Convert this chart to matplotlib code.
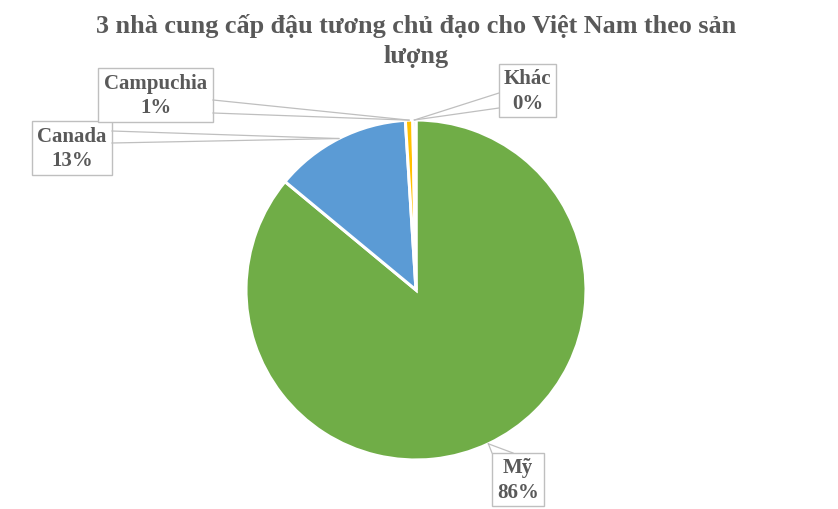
import numpy as np
import matplotlib
matplotlib.use("Agg")
import matplotlib.pyplot as plt
from matplotlib.patches import Rectangle

# data
labels = ["Mỹ", "Canada", "Campuchia", "Khác"]
values = [86.0, 13.0, 0.7, 0.3]
colors = ["#70AD47", "#5B9BD5", "#FFC000", "#A5A5A5"]
title = "3 nhà cung cấp đậu tương chủ đạo cho Việt Nam theo sản\nlượng"

W, H = 838, 509
fig = plt.figure(figsize=(W / 100, H / 100), dpi=100)
plt.rcParams['font.family'] = ['Liberation Serif', 'DejaVu Serif']

cx, cy, R = 416, 290, 170
ax = fig.add_axes([(cx - R) / W, (H - cy - R) / H, 2 * R / W, 2 * R / H])
wedges, _ = ax.pie(values, colors=colors, startangle=90, counterclock=False,
                   radius=1.0, wedgeprops=dict(edgecolor="white", linewidth=2.2))
ax.set_xlim(-1, 1)
ax.set_ylim(-1, 1)
ax.set_aspect("equal")
ax.axis("off")

def px(x, y):
    return x / W, 1 - y / H

text_col = "#595959"
line_col = "#BFBFBF"

fig.text(*px(416, 41), title, ha="center", va="center", fontsize=18.8,
         fontweight="bold", color=text_col, linespacing=1.4)

# label boxes: (left, top, right, bottom) in pixels, and two leader start points
boxes = {
    "Mỹ": ((492, 453, 544, 506), [(492, 453), (513, 453)]),
    "Canada": ((32, 121, 112, 175), [(112, 131), (112, 143)]),
    "Campuchia": ((98, 68, 213, 122), [(213, 100), (213, 113)]),
    "Khác": ((499, 64, 556, 117), [(499, 93), (499, 108)]),
}

total = sum(values)
for w, lab, v in zip(wedges, labels, values):
    ang = np.deg2rad((w.theta1 + w.theta2) / 2)
    ax_x, ax_y = px(cx + R * np.cos(ang), cy - R * np.sin(ang))
    (l, t, r, b), starts = boxes[lab]
    for sx, sy in starts:
        x0, y0 = px(sx, sy)
        fig.add_artist(plt.Line2D([x0, ax_x], [y0, ax_y], transform=fig.transFigure,
                                  color=line_col, linewidth=0.9))
    bl = px(l, b)
    fig.add_artist(Rectangle(bl, (r - l) / W, (b - t) / H, transform=fig.transFigure,
                             facecolor="white", edgecolor=line_col, linewidth=1))
    pct = round(v / total * 100)
    fig.text(*px((l + r) / 2, (t + b) / 2 + 1), f"{lab}\n{pct}%", ha="center", va="center",
             fontsize=15, fontweight="bold", color=text_col, linespacing=1.3)

fig.savefig("out.png", dpi=100)
